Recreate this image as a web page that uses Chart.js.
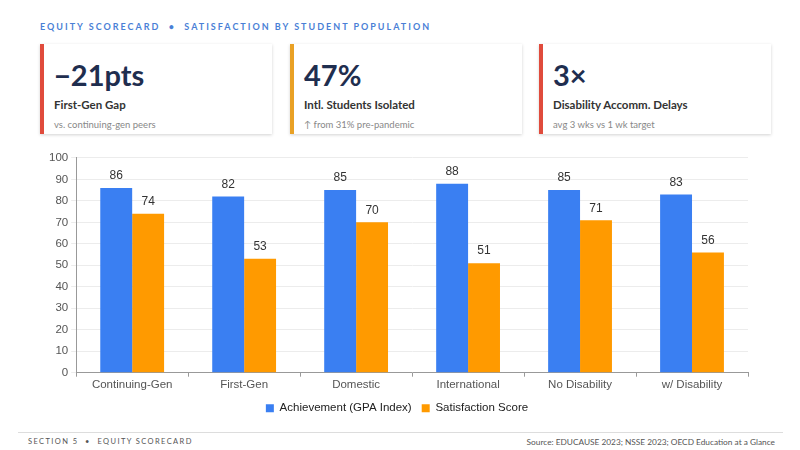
<!DOCTYPE html>
<html>
<head>
<meta charset="utf-8">
<script src="https://cdn.jsdelivr.net/npm/chart.js@4"></script>
<style>
  body { margin: 0; width: 800px; height: 450px; background: #fff; font-family: Lato, "Noto Sans", sans-serif; position: relative; overflow: hidden; }
  .title { position: absolute; left: 40px; top: 21px; font-size: 9px; font-weight: bold; letter-spacing: 2px; color: #4a7fd6; }
  .card { position: absolute; top: 44px; width: 232px; height: 90px; background: #fff; box-shadow: 0 1px 3px rgba(0,0,0,0.18); border-left: 4px solid; box-sizing: border-box; }
  .card .val { position: absolute; left: 10px; top: 13px; font-size: 29px; font-weight: bold; color: #1f2e4f; }
  .card .lbl { position: absolute; left: 10px; top: 54px; font-size: 11.5px; font-weight: bold; color: #333; }
  .card .sub { position: absolute; left: 10px; top: 75px; font-size: 9.5px; color: #888; }
  #wrap { position: absolute; left: 46px; top: 148px; width: 720px; height: 276px; }
  .foot { position: absolute; left: 18px; top: 432px; width: 765px; border-top: 1px solid #ddd; }
  .fl { position: absolute; left: 28px; top: 437px; font-size: 7.5px; letter-spacing: 1.4px; color: #555; }
  .fr { position: absolute; right: 25px; top: 437px; font-size: 8.3px; color: #555; }
</style>
</head>
<body>
<div class="title">EQUITY SCORECARD &nbsp;•&nbsp; SATISFACTION BY STUDENT POPULATION</div>

<div class="card" style="left:40px; border-color:#e04b3c;">
  <div class="val">−21pts</div>
  <div class="lbl">First-Gen Gap</div>
  <div class="sub">vs. continuing-gen peers</div>
</div>
<div class="card" style="left:290px; border-color:#e9a125;">
  <div class="val">47%</div>
  <div class="lbl">Intl. Students Isolated</div>
  <div class="sub">↑ from 31% pre-pandemic</div>
</div>
<div class="card" style="left:539px; border-color:#e04b3c;">
  <div class="val">3×</div>
  <div class="lbl">Disability Accomm. Delays</div>
  <div class="sub">avg 3 wks vs 1 wk target</div>
</div>

<div id="wrap"><canvas id="myChart1"></canvas></div>

<div class="foot"></div>
<div class="fl">SECTION 5 &nbsp;•&nbsp; EQUITY SCORECARD</div>
<div class="fr">Source: EDUCAUSE 2023; NSSE 2023; OECD Education at a Glance</div>

<script>
let categories = ['Continuing-Gen', 'First-Gen', 'Domestic', 'International', 'No Disability', 'w/ Disability'];
let achievement = [86, 82, 85, 88, 85, 83];
let satisfaction = [74, 53, 70, 51, 71, 56];
let yTicks = [0, 10, 20, 30, 40, 50, 60, 70, 80, 90, 100];

// draws the value above each bar
const barValues = {
    id: 'barValues',
    afterDatasetsDraw(chart) {
        let c = chart.ctx;
        c.save();
        c.font = '12px "Liberation Sans", Arial, sans-serif';
        c.fillStyle = '#333';
        c.textAlign = 'center';
        c.textBaseline = 'bottom';
        chart.data.datasets.forEach((ds, i) => {
            chart.getDatasetMeta(i).data.forEach((bar, j) => {
                c.fillText(ds.data[j], bar.x, bar.y - 6);
            });
        });
        c.restore();
    }
};

let ctx = document.getElementById('myChart1').getContext('2d');
let myChart1 = new Chart(ctx, {
    type: 'bar',
    data: {
        labels: categories,
        datasets: [{
            label: 'Achievement (GPA Index)',
            data: achievement,
            backgroundColor: '#3a7ff2'
        }, {
            label: 'Satisfaction Score',
            data: satisfaction,
            backgroundColor: '#ff9a00'
        }]
    },
    options: {
        responsive: true,
        maintainAspectRatio: false,
        animation: false,
        categoryPercentage: 0.57,
        barPercentage: 1,
        layout: { padding: { right: 18 } },
        scales: {
            x: {
                grid: { display: true, drawOnChartArea: false, tickLength: 4, color: '#999' },
                border: { color: '#999' },
                ticks: { color: '#555', padding: 1, font: { family: '"Liberation Sans", Arial, sans-serif', size: 11.5 } }
            },
            y: {
                min: 0,
                max: 100,
                afterBuildTicks: (axis) => { axis.ticks = yTicks.map(v => ({ value: v })); },
                grid: { color: '#ececec', tickLength: 5 },
                border: { color: '#999' },
                ticks: { color: '#555', font: { family: '"Liberation Sans", Arial, sans-serif', size: 11.5 } }
            }
        },
        plugins: {
            legend: {
                position: 'bottom',
                labels: { boxWidth: 8, boxHeight: 8, color: '#222', padding: 10, font: { family: '"Liberation Sans", Arial, sans-serif', size: 11.5 } }
            },
            tooltip: { enabled: false }
        }
    },
    plugins: [barValues]
});
</script>
</body>
</html>
